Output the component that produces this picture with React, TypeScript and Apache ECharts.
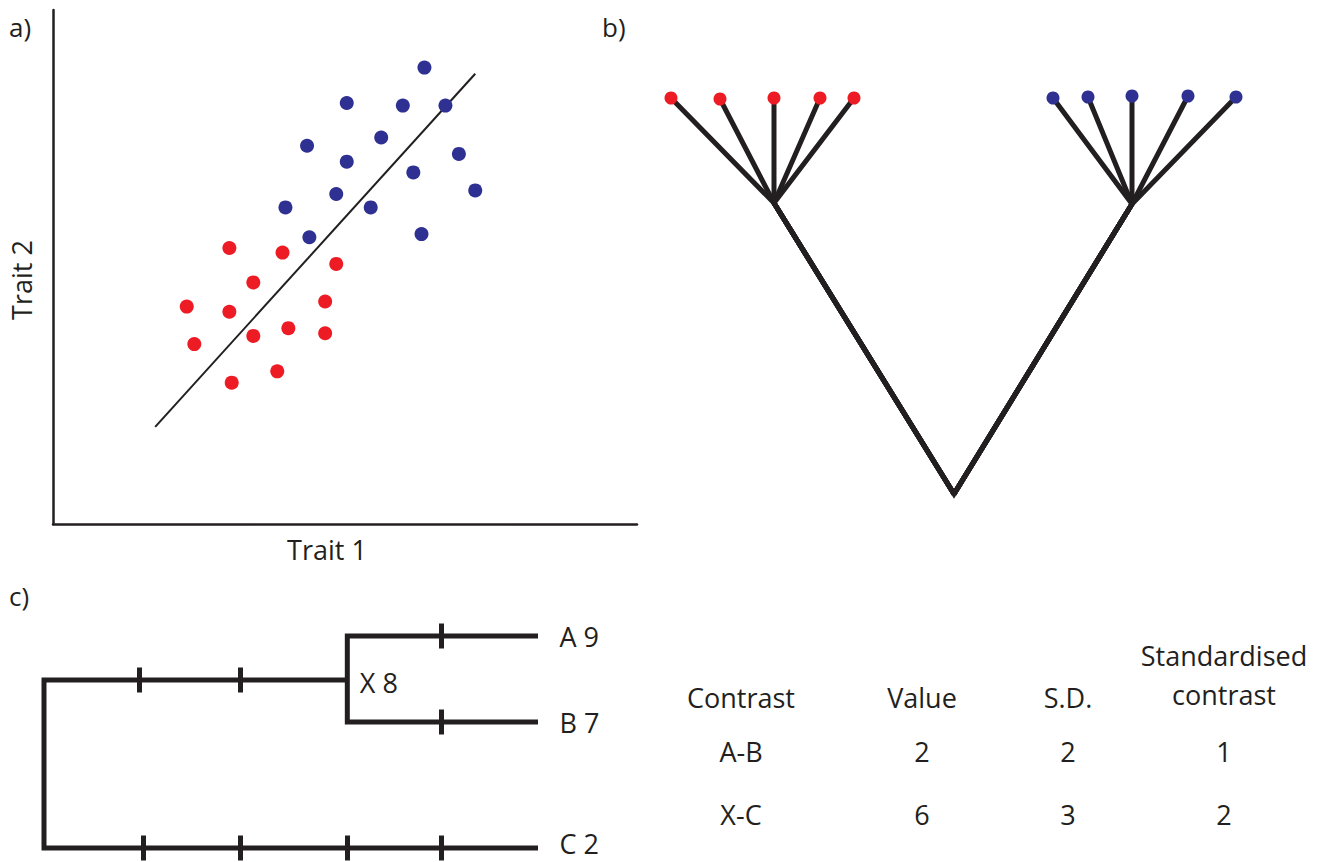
import React, { useEffect, useRef } from "react";
import * as echarts from "echarts";

const INK = "#231f20";
const RED = "#ed1c24";
const BLUE = "#2e3192";
const FONT = "'Open Sans', 'Noto Sans', sans-serif";
const FONT_SIZE = 27;

// a) Trait values of the two groups, on a 0–100 scale
const redTrait1 = [30.2, 39.3, 48.5, 34.3, 22.9, 30.2, 46.6, 24.2, 34.3, 40.3, 46.6, 38.4, 30.6];
const redTrait2 = [53.7, 52.8, 50.6, 47.0, 42.3, 41.3, 43.3, 35.0, 36.6, 38.1, 37.1, 29.7, 27.5];
const blueTrait1 = [63.6, 50.3, 59.9, 67.2, 56.2, 43.5, 50.3, 69.5, 61.7, 72.3, 48.5, 39.8, 54.4, 43.9, 63.1];
const blueTrait2 = [88.8, 81.9, 81.4, 81.4, 75.2, 73.6, 70.5, 72.0, 68.4, 64.9, 64.2, 61.6, 61.6, 55.8, 56.4];
// fitted line end points
const fitTrait1 = [17.5, 72.3];
const fitTrait2 = [18.9, 87.6];

// b) Two star-shaped clades joined at a root (x: spread, y: height)
const redTipX = [31, 80, 134, 180, 214];
const redTipY = [422, 421, 422, 422, 422];
const blueTipX = [413, 448, 492, 548, 596];
const blueTipY = [422, 423, 424, 424, 423];
const cladeNodeX = [134, 492];
const cladeNodeY = [317, 316];
const rootX = 314;
const rootY = 26;

// c) Tree with branch lengths (x) and rows (y, downward)
const tipNames = ["A", "B", "C"];
const tipValues = [9, 7, 2];
const tipRows = [56, 142, 268];
const tipDepth = 5;
const innerName = "X";
const innerValue = 8;
const innerDepth = 3.07;
const innerRow = 100;
const rootRow = 100;
// change marks along each branch
const ticksUpper = [0.96, 1.99];
const ticksA = [4.02];
const ticksB = [4.02];
const ticksC = [1.0, 1.99, 3.07, 4.02];
const tickHalf = 12.5;

// contrasts table
const tableHeaders = ["Contrast", "Value", "S.D.", "Standardised\ncontrast"];
const contrastNames = ["A-B", "X-C"];
const contrastValues = [2, 6];
const contrastSD = [2, 3];
const contrastStd = [1, 2];

const zip = (a: number[], b: number[]) => a.map((v, i) => [v, b[i]]);

function buildOption() {
  const root = [rootX, rootY];
  const redNode = [cladeNodeX[0], cladeNodeY[0]];
  const blueNode = [cladeNodeX[1], cladeNodeY[1]];
  const redTips = zip(redTipX, redTipY);
  const blueTips = zip(blueTipX, blueTipY);

  const cladeEdges = [
    ...redTips.map((t) => ({ coords: [root, redNode, t] })),
    ...blueTips.map((t) => ({ coords: [root, blueNode, t] })),
  ];

  const [rowA, rowB, rowC] = tipRows;
  const cTree = [
    { coords: [[tipDepth, rowA], [innerDepth, rowA], [innerDepth, rowB], [tipDepth, rowB]] },
    { coords: [[innerDepth, rootRow], [0, rootRow], [0, rowC], [tipDepth, rowC]] },
  ];
  const tickSeg = (x: number, row: number) => ({ coords: [[x, row - tickHalf], [x, row + tickHalf]] });
  const cTicks = [
    ...ticksUpper.map((x) => tickSeg(x, rootRow)),
    ...ticksA.map((x) => tickSeg(x, rowA)),
    ...ticksB.map((x) => tickSeg(x, rowB)),
    ...ticksC.map((x) => tickSeg(x, rowC)),
  ];

  const textStyle = { fontFamily: FONT, fontSize: FONT_SIZE, color: INK };

  const colX = [741, 922, 1068, 1224];
  const headerY = [697, 697, 697, 675];
  const rowY = [751, 814];
  const graphic: any[] = [
    { type: "text", x: 9, y: 27, style: { text: "a)", fill: INK, font: `26px ${FONT}`, verticalAlign: "middle" } },
    { type: "text", x: 602, y: 27, style: { text: "b)", fill: INK, font: `26px ${FONT}`, verticalAlign: "middle" } },
    { type: "text", x: 9, y: 596, style: { text: "c)", fill: INK, font: `26px ${FONT}`, verticalAlign: "middle" } },
  ];
  tableHeaders.forEach((h, i) => {
    graphic.push({
      type: "text",
      x: colX[i],
      y: headerY[i],
      style: { text: h, fill: INK, font: `${FONT_SIZE}px ${FONT}`, align: "center", verticalAlign: "middle", lineHeight: 39 },
    });
  });
  contrastNames.forEach((n, r) => {
    const cells = [n, String(contrastValues[r]), String(contrastSD[r]), String(contrastStd[r])];
    cells.forEach((c, i) => {
      graphic.push({
        type: "text",
        x: colX[i],
        y: rowY[r],
        style: { text: c, fill: INK, font: `${FONT_SIZE}px ${FONT}`, align: "center", verticalAlign: "middle" },
      });
    });
  });

  const hiddenAxis = { show: false, type: "value" as const };

  return {
    animation: false,
    backgroundColor: "#ffffff",
    grid: [
      { left: 53, top: 10, width: 584, height: 514 },
      { left: 640, top: 60, width: 640, height: 460 },
      { left: 44, top: 580, width: 494, height: 282 },
    ],
    xAxis: [
      {
        gridIndex: 0,
        type: "value",
        min: 0,
        max: 100,
        axisLine: { show: true, lineStyle: { color: INK, width: 2.5 } },
        axisTick: { show: false },
        axisLabel: { show: false },
        splitLine: { show: false },
        name: "Trait 1",
        nameLocation: "middle",
        nameGap: 12,
        nameTextStyle: { ...textStyle, padding: [0, 36, 0, 0] },
      },
      { ...hiddenAxis, gridIndex: 1, min: 0, max: 640 },
      { ...hiddenAxis, gridIndex: 2, min: 0, max: 5 },
    ],
    yAxis: [
      {
        gridIndex: 0,
        type: "value",
        min: 0,
        max: 100,
        axisLine: { show: true, lineStyle: { color: INK, width: 2.5 } },
        axisTick: { show: false },
        axisLabel: { show: false },
        splitLine: { show: false },
        name: "Trait 2",
        nameLocation: "middle",
        nameGap: 18,
        nameRotate: 90,
        nameTextStyle: { ...textStyle, padding: [0, 26, 0, 0] },
      },
      { ...hiddenAxis, gridIndex: 1, min: 0, max: 460 },
      { ...hiddenAxis, gridIndex: 2, min: 0, max: 282, inverse: true },
    ],
    graphic,
    series: [
      {
        type: "line",
        xAxisIndex: 0,
        yAxisIndex: 0,
        data: zip(fitTrait1, fitTrait2),
        showSymbol: false,
        symbol: "none",
        lineStyle: { color: INK, width: 2 },
        z: 2,
      },
      {
        type: "scatter",
        xAxisIndex: 0,
        yAxisIndex: 0,
        data: zip(redTrait1, redTrait2),
        symbolSize: 14,
        itemStyle: { color: RED, opacity: 1 },
        z: 3,
      },
      {
        type: "scatter",
        xAxisIndex: 0,
        yAxisIndex: 0,
        data: zip(blueTrait1, blueTrait2),
        symbolSize: 14,
        itemStyle: { color: BLUE, opacity: 1 },
        z: 3,
      },
      {
        type: "lines",
        coordinateSystem: "cartesian2d",
        xAxisIndex: 1,
        yAxisIndex: 1,
        polyline: true,
        data: cladeEdges,
        lineStyle: { color: INK, width: 5, opacity: 1, join: "miter", cap: "butt" },
        z: 2,
      },
      {
        type: "line",
        xAxisIndex: 1,
        yAxisIndex: 1,
        data: [redNode, root, blueNode],
        symbol: "none",
        lineStyle: { color: INK, width: 5, join: "miter" },
        z: 2,
      },
      {
        type: "scatter",
        xAxisIndex: 1,
        yAxisIndex: 1,
        data: redTips,
        symbolSize: 13,
        itemStyle: { color: RED, opacity: 1 },
        z: 3,
      },
      {
        type: "scatter",
        xAxisIndex: 1,
        yAxisIndex: 1,
        data: blueTips,
        symbolSize: 13,
        itemStyle: { color: BLUE, opacity: 1 },
        z: 3,
      },
      {
        type: "lines",
        coordinateSystem: "cartesian2d",
        xAxisIndex: 2,
        yAxisIndex: 2,
        polyline: true,
        data: cTree,
        lineStyle: { color: INK, width: 5, opacity: 1, join: "miter", cap: "butt" },
        z: 2,
      },
      {
        type: "lines",
        coordinateSystem: "cartesian2d",
        xAxisIndex: 2,
        yAxisIndex: 2,
        data: cTicks,
        lineStyle: { color: INK, width: 5, opacity: 1, cap: "butt" },
        z: 2,
      },
      {
        type: "scatter",
        xAxisIndex: 2,
        yAxisIndex: 2,
        symbolSize: 1,
        itemStyle: { color: "transparent", opacity: 1 },
        data: tipNames.map((n, i) => ({
          value: [tipDepth, tipRows[i]],
          name: `${n} ${tipValues[i]}`,
          // the bottom row sits at the lower edge: lift its label slightly
          label: i === tipNames.length - 1 ? { offset: [0, -5] } : undefined,
        })),
        label: {
          show: true,
          position: "right",
          distance: 21,
          formatter: (p: any) => p.name,
          ...textStyle,
          lineHeight: 22,
        },
        clip: false,
        z: 4,
      },
      {
        type: "scatter",
        xAxisIndex: 2,
        yAxisIndex: 2,
        symbolSize: 1,
        itemStyle: { color: "transparent", opacity: 1 },
        data: [{ value: [innerDepth, innerRow + 2], name: `${innerName} ${innerValue}` }],
        label: {
          show: true,
          position: "right",
          distance: 12,
          formatter: (p: any) => p.name,
          ...textStyle,
        },
        clip: false,
        z: 4,
      },
    ],
  };
}

export default function App() {
  const ref = useRef<HTMLDivElement>(null);
  useEffect(() => {
    if (!ref.current) return;
    const chart = echarts.init(ref.current, undefined, { renderer: "svg" });
    chart.setOption(buildOption() as any);
    return () => chart.dispose();
  }, []);
  return (
    <div
      ref={ref}
      style={{ position: "absolute", left: 0, top: 0, width: 1327, height: 862, background: "#fff" }}
    />
  );
}
